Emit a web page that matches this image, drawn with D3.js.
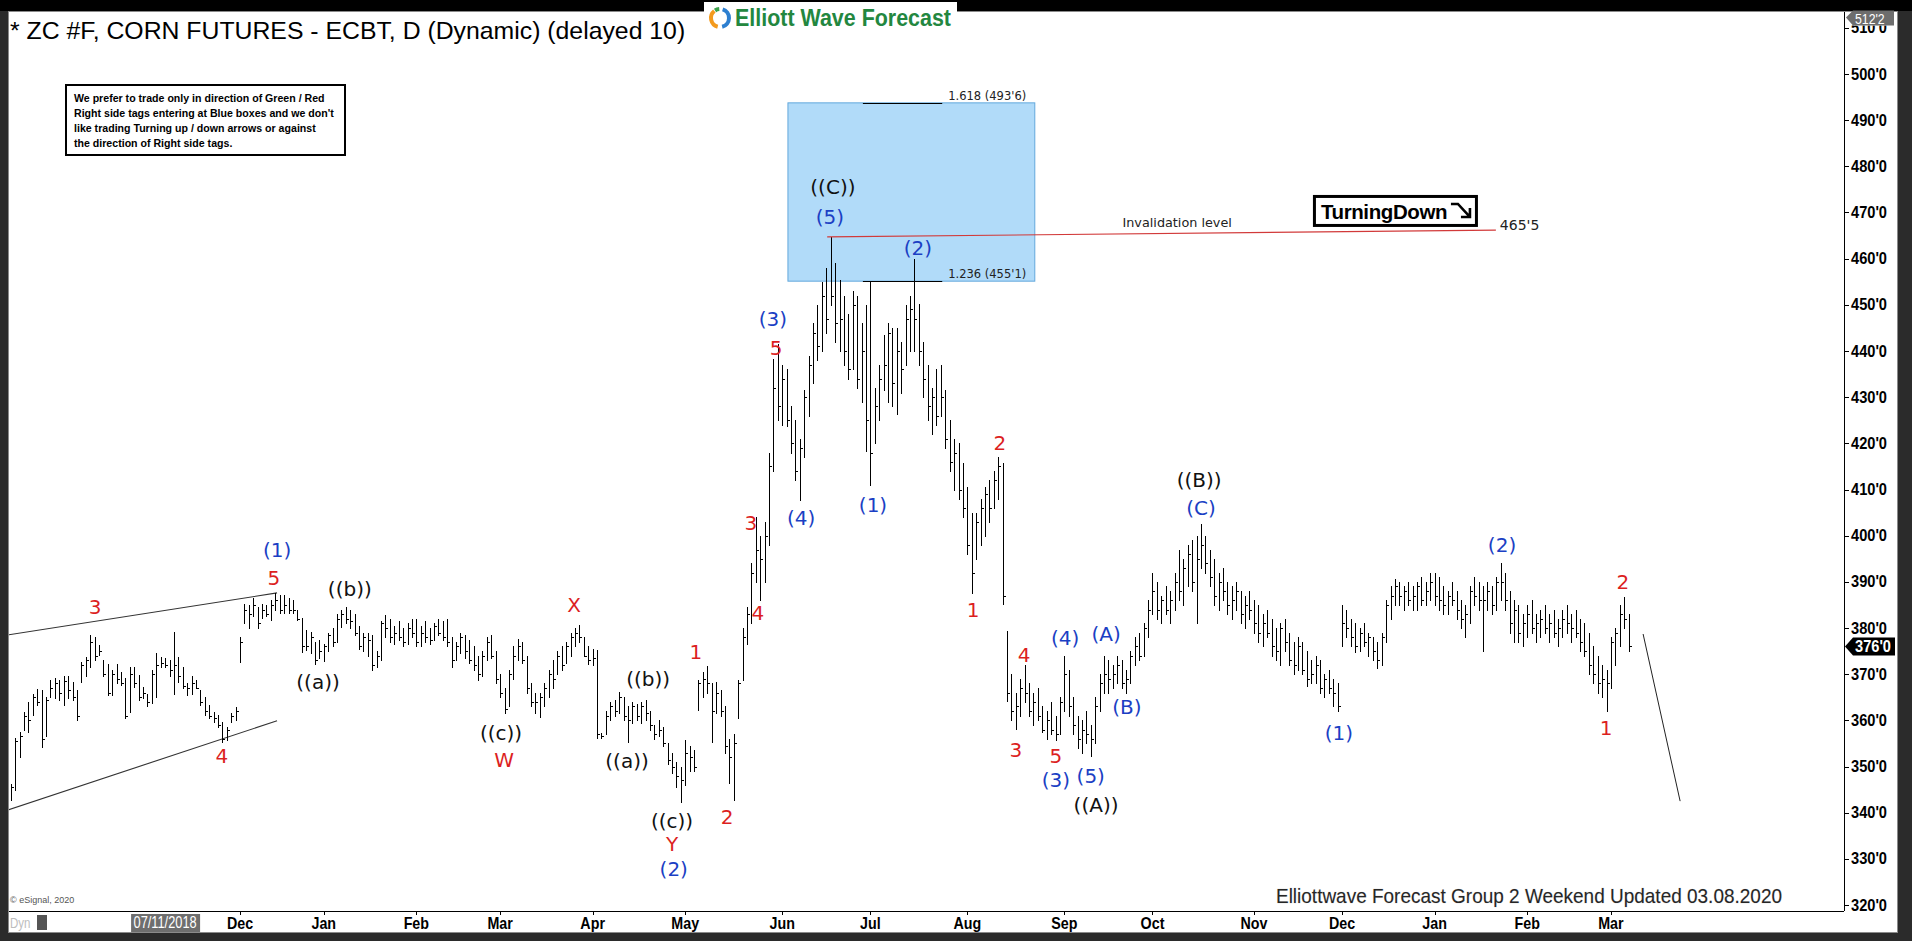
<!DOCTYPE html>
<html>
<head>
<meta charset="utf-8">
<title>ZC #F Corn Futures</title>
<script src="https://cdn.jsdelivr.net/npm/d3@7"></script>
<style>
  html, body { margin: 0; padding: 0; background: #2b2b2b; overflow: hidden; }
  svg { display: block; }
</style>
</head>
<body>
<div id="chart"></div>
<script>
// ---- data ----
const firstDay = '2018-09-17';
const lastDay = '2020-03-06';
const holidays = ['2018-11-22', '2018-12-05', '2018-12-25', '2019-01-01', '2019-01-21', '2019-02-18',
  '2019-04-19', '2019-05-27', '2019-07-04', '2019-09-02', '2019-11-28', '2019-12-25',
  '2020-01-01', '2020-01-20', '2020-02-17'];

// daily highs, one row per month
const highs = [
  349, 348.5, 346.3, 356.1, 357.5, 361.9, 364, 365.8, 366.7, 366.6,
  365.1, 368.7, 369.1, 368.7, 369.5, 369.5, 368.4, 366.6, 372.7, 373.8, 378.5, 378.1, 376.3, 373.1, 372.3, 370.9, 372.3, 370.5, 369.1, 371.6, 371.6, 369.8, 367.3,
  365.8, 371, 374.5, 373.8, 373.4, 373, 379.2, 373.8, 371.6, 368, 369.5, 368.7, 366.5, 365.1, 363.3, 361.9, 361.1, 359.7, 358.6, 361.5, 362.9,
  378.1, 385.3, 385, 386.4, 384.6, 385.3, 385, 386, 387.5, 387.1, 387.1, 386.4, 386, 383.9, 382.1, 379.6, 379.2, 377, 377.5,
  376.5, 379, 380, 383, 384, 384.6, 384, 383, 380.5, 379, 379, 378.5, 375, 381.5, 382.8, 382, 380.5, 381.5, 380, 381, 382,
  382, 380.5, 381.5, 380, 381, 382, 381.5, 382, 378, 377, 379, 378.5, 377.5, 376, 374, 375, 378, 378.5, 375,
  370, 367, 371, 376, 377.7, 377, 374, 368, 366, 366, 368, 371, 373, 375, 376, 377, 379, 380, 380.6, 378, 376,
  375.5, 375.2, 357.2, 362, 364, 364.5, 366.2, 365, 363, 364, 363.5, 364, 364.5, 362, 359, 360, 358.5, 355, 353, 351, 350,
  355.7, 354.5, 353.5, 368.7, 370.5, 371.8, 368, 368.3, 366.5, 363, 356, 357, 368.7, 380, 384.6, 394, 404, 400, 403, 418, 438.3, 441.5,
  437, 436, 428, 425, 421, 431.6, 439, 446, 450, 455, 458, 464.7, 459, 455.4, 452, 448, 453, 452, 446, 450,
  455, 432, 437, 443.5, 446, 445, 444.9, 442, 450, 452, 460, 450.2, 442, 437, 432, 436, 437, 431.6, 425, 421, 420, 415.8,
  410.5, 405, 405, 408, 410.5, 412, 414, 417, 415.8, 379.3, 370, 366, 369, 372, 368, 366, 367, 363, 362, 364, 361, 365,
  374, 371, 365, 361, 360, 362, 359, 365, 370, 374, 373, 372, 374, 373, 371, 375, 378, 379, 381, 386,
  391.9, 390, 387, 389, 388, 392, 397, 395, 398, 399, 400, 402.5, 400, 397, 395, 392, 393, 390, 389, 390, 388, 387, 388,
  386, 385, 383, 384, 382, 380, 381, 382, 379, 377, 378, 377, 375, 373, 374, 373, 370, 371, 369, 368,
  385, 384, 382, 381, 380, 381, 379, 378, 377, 379, 386, 389, 390.6, 390, 389, 390, 389, 390, 391, 390, 392,
  392, 391, 389, 388, 390, 388, 386, 385, 389, 391, 390, 389, 390, 389, 391, 394, 392, 388, 386, 385, 383,
  385, 386, 383, 384, 385, 383, 384, 382, 384, 385, 383, 384, 382, 381, 379, 376, 374, 372, 371,
  378, 380, 385, 386.7, 383
];

const lows = [
  343, 343.1, 342.7, 344.9, 352.1, 357.9, 357.5, 361.1, 363.3, 354.3,
  356.5, 365.1, 364.8, 364.4, 363.3, 364.8, 364.4, 360.1, 368.4, 369.5, 371.6, 373.1, 374.1, 369.5, 365.5, 365.5, 368, 367.6, 360.4, 361.9, 367.3, 364.4, 364.8,
  363, 363.7, 365.1, 371.6, 371.6, 369.5, 365.8, 368.4, 366.9, 365.5, 365.8, 366.9, 363.3, 361.1, 360.4, 359.7, 358.6, 355.4, 355.7, 359.7, 360.1,
  372.7, 381, 379.9, 382.5, 379.9, 382.1, 382.5, 381.7, 383.9, 383.2, 383.2, 383.2, 383.2, 381.7, 374.9, 375.2, 374.5, 372.3, 373.5,
  372.8, 375, 376, 377, 380.3, 381, 380, 378.5, 375.5, 375, 374, 370.9, 371.5, 373, 378, 377, 376.5, 377.5, 376, 376.5, 378,
  376, 376, 377, 376.5, 377.5, 378.5, 377.5, 376, 371.6, 373, 374.5, 373.5, 372.5, 371, 368.7, 369.5, 373, 373.5, 368,
  365, 361.5, 363, 369, 373, 372.5, 366, 363, 361.5, 360.8, 363, 365, 367, 370, 371, 372.5, 374, 376, 377, 374, 372.3,
  372, 356.1, 356.1, 357, 360, 361, 361.5, 360, 355.4, 359.5, 360, 359.5, 360, 358, 356, 356.5, 354.5, 350.5, 348.5, 345.5, 342.4,
  346, 349, 349, 362.2, 365, 366, 355.4, 361.5, 361, 353, 346.5, 342.7, 360.4, 368.7, 376.5, 381, 390, 386, 390, 398, 414, 425,
  424, 423.7, 418, 412, 407.8, 417, 426, 433, 438, 440, 444, 450, 442, 440, 437, 434, 436, 432, 429, 418.4,
  411, 420, 425, 431.6, 429, 428, 426.3, 431, 437, 440, 440, 437, 430, 425, 422, 424, 426, 419, 414, 410, 408, 404,
  396, 387.5, 395, 398, 400, 403, 406, 408, 385.3, 364.2, 360, 358.1, 361, 364, 361, 359, 360, 357.5, 356, 357, 355.7, 357,
  362, 361, 357, 354, 353, 355, 352.3, 355, 362, 366, 366, 367, 368, 367, 366, 368, 372, 373, 374, 378,
  383, 382, 381, 383, 381, 384, 386, 385, 389, 388, 381, 393, 392, 389, 385, 384, 386, 383, 382, 384, 381, 380, 382,
  379, 377, 376, 378, 374, 373, 372, 375, 372, 370, 371, 370, 367.5, 368, 368, 366, 365, 366, 363, 362,
  376, 378, 376, 374.8, 375, 376, 374, 373, 371.3, 372, 377, 382, 385, 385, 384, 385, 384, 384, 385, 385, 386,
  385, 384, 383, 383, 385, 382, 380, 378, 381, 385, 384, 375, 384, 383, 384, 386, 384, 379, 377, 377, 376,
  378, 379, 377, 378, 379, 377, 378, 376, 378, 379, 377, 378, 375, 374, 370, 368, 366, 365, 362,
  367, 372, 376, 380, 375
];

const closes = [
  345, 344, 345.5, 355.5, 356.5, 361, 360, 365, 364, 356,
  364.5, 367, 368, 366, 368.5, 366.5, 365, 361, 372, 373, 377, 374, 375, 370, 366, 370, 369, 368, 361, 370, 368, 365, 366,
  364, 370, 372, 372.5, 372, 371, 372, 369.5, 367.5, 367, 368, 367, 364, 362, 361, 360.5, 359, 356, 358, 361, 362,
  377, 384, 383, 385, 381, 384, 383, 385, 386, 384, 385, 384, 384, 382, 376, 376, 378, 373, 375,
  376, 378.5, 377, 382, 383, 382, 381.5, 379, 376, 378, 377.5, 372, 374, 381, 380, 378, 379, 378, 377, 380, 379,
  377, 379, 378, 377.5, 380.5, 379, 378, 377, 373, 376, 378, 375, 373, 372, 370, 374, 377, 374, 369,
  366, 362.5, 370, 374, 376, 373, 367, 364, 364, 365, 367, 370, 369, 374, 372, 376, 378, 379, 378, 374, 373,
  373.5, 357, 356.5, 361, 363, 362, 365, 361, 360, 363, 361, 363, 361.5, 359, 357, 358, 355, 351.5, 350, 348, 347,
  353, 352, 350, 368, 369, 368, 362, 366, 362, 354.5, 352, 355, 368, 378, 383, 392, 397, 395, 400, 415, 432, 428,
  434, 425, 420, 414, 419, 430, 437, 444, 441, 452, 447, 452, 446, 447, 440, 436, 450, 434, 440, 425,
  418, 428, 434, 437, 444, 433, 440, 436, 447, 449, 447, 440, 434, 428, 430, 426, 430, 421, 416, 418, 410, 406,
  398, 392, 403, 406, 409, 406, 412, 415, 387, 366, 362, 363, 367, 366, 362, 364, 361, 358, 360, 358, 357, 364,
  370, 363, 359, 356, 358, 357, 356, 363, 368, 370, 369, 370, 372, 368, 369, 374, 376, 374, 380, 384,
  388, 384, 386, 384, 386, 390, 388, 393, 396, 390, 395, 398, 394, 391, 387, 390, 388, 385, 386, 388, 383, 385, 384,
  381, 379, 381, 379, 376, 375, 380, 377, 373, 372, 376, 371, 369, 370, 372, 367, 369, 367, 366, 363,
  381, 380, 378, 376, 379, 377, 378, 375, 373, 378, 385, 387, 389, 387, 388, 386, 387, 389, 386, 388, 390,
  387, 386, 385, 387, 386, 384, 382, 383, 388, 387, 386, 386, 388, 385, 390, 390, 386, 381, 384, 379, 381,
  383, 380, 381, 382, 380, 381, 379, 380, 382, 381, 380, 379, 377, 375, 372, 370, 368, 369, 368,
  377, 379, 383, 382, 376
];

const priceTicks = d3.range(320, 511, 10);
const firstLabelledMonth = '2018-12-01';
const cursorDate = '2018-11-07';
const lastPrice = "376'0";
const lastPriceValue = 376;
const topTag = "512'2";
const topTagValue = 512.25;

// fib box (bar index from/to, prices) and its level lines
const boxBars = [178.3, 234.3];
const boxPrices = [455.125, 493.75];
const fibBars = [195.3, 213.3];
const fibLevels = [493.75, 455.125];
const fibTexts = ["1.618 (493'6)", "1.236 (455'1)"];

// invalidation line
const invalidBars = [187.2, 338.9];
const invalidPrices = [464.7, 466.2];
const invalidText = "465'5";

// wedge channel lines, projection line
const wedgeBars = [1.36, 62.4];
const wedgeUpper = [378.5, 387.6];
const wedgeLower = [340.6, 359.9];
const projBars = [372.3, 380.7];
const projPrices = [378.7, 342.5];

// wave labels: [text, bar index, price]
const redLabels = [
  ['3', 21.1, 384.5], ['4', 49.9, 352.3], ['5', 61.7, 390.8], ['X', 129.8, 385], ['W', 113.9, 351.4],
  ['Y', 152, 333.2], ['1', 157.4, 374.8], ['2', 164.5, 339.1], ['3', 169.9, 402.7], ['4', 171.5, 383.2],
  ['5', 175.6, 440.6], ['1', 220.3, 383.9], ['2', 226.4, 420.1], ['4', 231.9, 374.1], ['3', 230, 353.6],
  ['5', 239.1, 352.3], ['1', 363.9, 358.3], ['2', 367.7, 390]
];
const blueLabels = [
  ['(1)', 62.4, 396.9], ['(3)', 174.9, 446.9], ['(5)', 187.8, 469], ['(4)', 181.3, 403.8], ['(1)', 197.6, 406.6],
  ['(2)', 207.8, 462.3], ['(4)', 241.2, 377.8], ['(3)', 239.1, 347.1], ['(5)', 247, 347.9], ['(A)', 250.5, 378.7],
  ['(B)', 255.2, 362.9], ['(C)', 272, 406], ['(2)', 152.4, 327.8], ['(1)', 303.3, 357.3], ['(2)', 340.3, 398]
];
const blackLabels = [
  ['((b))', 78.9, 388.4], ['((a))', 71.7, 368.3], ['((c))', 113.2, 357.3], ['((a))', 141.8, 351.2],
  ['((b))', 146.6, 368.9], ['((c))', 152, 338.2], ['((C))', 188.5, 475.5], ['((B))', 271.6, 412], ['((A))', 248.2, 341.7]
];

const noteLines = [
  'We prefer to trade only in direction of Green / Red',
  "Right side tags entering at Blue boxes and we don't",
  'like trading Turning up / down arrows or against',
  'the direction of Right side tags.'
];

// ---- layout ----
const W = 1912;
const H = 941;
const plot = { left: 9, right: 1844, top: 12, bottom: 911 };
const barStep = 4.408;
const arial = '"Liberation Sans", Arial, sans-serif';
const verdana = '"DejaVu Sans", Verdana, sans-serif';

// squeeze a text horizontally, the chart uses a narrow face
function squeeze(sel, k) {
  sel.each(function () {
    const w = this.getComputedTextLength();
    d3.select(this).attr('textLength', w * k).attr('lengthAdjust', 'spacingAndGlyphs');
  });
}

const fmtDay = d3.timeFormat('%Y-%m-%d');
const parseDay = d3.timeParse('%Y-%m-%d');
const days = d3.timeDay.range(parseDay(firstDay), d3.timeDay.offset(parseDay(lastDay), 1))
  .filter((d) => d.getDay() !== 0 && d.getDay() !== 6 && !holidays.includes(fmtDay(d)));

const x = d3.scaleLinear()
  .domain([0, highs.length - 1])
  .range([2, 2 + barStep * (highs.length - 1)]);
const y = d3.scaleLinear().domain([320, 500]).range([905, 74]);
const px = (i) => Math.round(x(i)) + 0.5;

const svg = d3.select('#chart').append('svg')
  .attr('width', W)
  .attr('height', H);

// window frame
svg.append('rect').attr('width', W).attr('height', H).attr('fill', '#2b2b2b');
svg.append('rect').attr('width', W).attr('height', 11).attr('fill', '#000');
svg.append('rect')
  .attr('x', 8.5).attr('y', 11.5)
  .attr('width', 1889).attr('height', 921)
  .attr('fill', '#fff')
  .attr('stroke', '#8a8a8a');

const defs = svg.append('defs');
defs.append('clipPath').attr('id', 'plotClip')
  .append('rect')
  .attr('x', plot.left).attr('y', plot.top)
  .attr('width', plot.right - plot.left).attr('height', plot.bottom - plot.top);

const plotG = svg.append('g').attr('clip-path', 'url(#plotClip)');

// blue target box
plotG.append('rect')
  .attr('x', x(boxBars[0]))
  .attr('y', y(boxPrices[1]))
  .attr('width', x(boxBars[1]) - x(boxBars[0]))
  .attr('height', y(boxPrices[0]) - y(boxPrices[1]))
  .attr('fill', '#b1dbf9')
  .attr('stroke', '#62a8dc');

// fib levels
fibLevels.forEach((lvl, k) => {
  plotG.append('line')
    .attr('x1', x(fibBars[0])).attr('x2', x(fibBars[1]))
    .attr('y1', Math.round(y(lvl)) + 0.5).attr('y2', Math.round(y(lvl)) + 0.5)
    .attr('stroke', '#000');
  plotG.append('text')
    .attr('x', x(fibBars[1]) + 6)
    .attr('y', y(lvl) - 3)
    .attr('font-family', verdana)
    .attr('font-size', 11.5)
    .attr('fill', '#222')
    .text(fibTexts[k]);
});

// wedge channel
[wedgeUpper, wedgeLower].forEach((p) => {
  plotG.append('line')
    .attr('x1', x(wedgeBars[0])).attr('y1', y(p[0]))
    .attr('x2', x(wedgeBars[1])).attr('y2', y(p[1]))
    .attr('stroke', '#333')
    .attr('stroke-width', 1.1);
});

// OHLC bars
const bars = plotG.append('g').attr('shape-rendering', 'crispEdges');
bars.selectAll('line.hl')
  .data(highs)
  .join('line')
  .attr('class', 'hl')
  .attr('x1', (d, i) => px(i)).attr('x2', (d, i) => px(i))
  .attr('y1', (d) => Math.round(y(d)))
  .attr('y2', (d, i) => Math.round(y(lows[i])) + 1)
  .attr('stroke', '#000');
bars.selectAll('line.cl')
  .data(closes)
  .join('line')
  .attr('class', 'cl')
  .attr('x1', (d, i) => px(i)).attr('x2', (d, i) => px(i) + 2.5)
  .attr('y1', (d) => Math.round(y(d)) + 0.5)
  .attr('y2', (d) => Math.round(y(d)) + 0.5)
  .attr('stroke', '#000');

// invalidation line
plotG.append('line')
  .attr('x1', x(invalidBars[0])).attr('y1', y(invalidPrices[0]))
  .attr('x2', x(invalidBars[1])).attr('y2', y(invalidPrices[1]))
  .attr('stroke', '#d23a3a')
  .attr('stroke-width', 1.2);
plotG.append('text')
  .attr('x', x(266.6)).attr('y', y(467.8))
  .attr('text-anchor', 'middle').attr('dominant-baseline', 'central')
  .attr('font-family', verdana).attr('font-size', 12.8).attr('fill', '#222')
  .text('Invalidation level');
plotG.append('text')
  .attr('x', x(invalidBars[1]) + 4).attr('y', y(467.2))
  .attr('dominant-baseline', 'central')
  .attr('font-family', verdana).attr('font-size', 14).attr('fill', '#222')
  .text(invalidText);

// TurningDown tag
const tag = plotG.append('g').attr('transform', `translate(${x(297.4)},${y(473.8)})`);
tag.append('rect')
  .attr('x', 1.5).attr('y', 1.5).attr('width', 162).attr('height', 29)
  .attr('fill', '#fff').attr('stroke', '#000').attr('stroke-width', 3);
tag.append('text')
  .attr('x', 8).attr('y', 16.5)
  .attr('dominant-baseline', 'central')
  .attr('font-family', arial).attr('font-weight', 'bold').attr('font-size', 20.5)
  .attr('letter-spacing', -0.4)
  .attr('fill', '#000')
  .text('TurningDown');
tag.append('path')
  .attr('d', 'M138,9 L145,9 L156,21 M148,22 L157,22 L157,13')
  .attr('fill', 'none').attr('stroke', '#000').attr('stroke-width', 2.6);

// projection line
plotG.append('line')
  .attr('x1', x(projBars[0])).attr('y1', y(projPrices[0]))
  .attr('x2', x(projBars[1])).attr('y2', y(projPrices[1]))
  .attr('stroke', '#222');

// wave labels
const waveGroups = [[redLabels, '#dc1f1f'], [blueLabels, '#1b3fc4'], [blackLabels, '#111']];
waveGroups.forEach(([labels, colour]) => {
  plotG.append('g').selectAll('text')
    .data(labels)
    .join('text')
    .attr('x', (d) => x(d[1]))
    .attr('y', (d) => y(d[2]))
    .attr('text-anchor', 'middle')
    .attr('dominant-baseline', 'central')
    .attr('font-family', verdana)
    .attr('font-size', 20)
    .attr('fill', colour)
    .text((d) => d[0]);
});

// right price axis
svg.append('line')
  .attr('x1', plot.right + 0.5).attr('x2', plot.right + 0.5)
  .attr('y1', plot.top).attr('y2', plot.bottom)
  .attr('stroke', '#000');
const ty = y(topTagValue);
defs.append('clipPath').attr('id', 'underTag')
  .append('rect')
  .attr('x', plot.right).attr('y', ty + 8)
  .attr('width', 60).attr('height', plot.bottom);
const yAx = svg.append('g').attr('clip-path', 'url(#underTag)');
yAx.selectAll('line')
  .data(priceTicks)
  .join('line')
  .attr('x1', plot.right).attr('x2', plot.right + 5)
  .attr('y1', (d) => Math.round(y(d)) + 0.5).attr('y2', (d) => Math.round(y(d)) + 0.5)
  .attr('stroke', '#000');
yAx.selectAll('text')
  .data(priceTicks)
  .join('text')
  .attr('x', plot.right + 7)
  .attr('y', (d) => y(d))
  .attr('dominant-baseline', 'central')
  .attr('font-family', arial).attr('font-weight', 'bold').attr('font-size', 17)
  .attr('fill', '#000')
  .text((d) => `${d}'0`)
  .call(squeeze, 0.86);

// top tag (covers most of the 510'0 label)
svg.append('path')
  .attr('d', `M${plot.right + 2},${ty} L${plot.right + 9},${ty - 7} L1894,${ty - 7} L1894,${ty + 8} L${plot.right + 9},${ty + 8} Z`)
  .attr('fill', '#6d6d6d');
svg.append('text')
  .attr('x', plot.right + 11).attr('y', ty + 1)
  .attr('dominant-baseline', 'central')
  .attr('font-family', arial).attr('font-size', 15).attr('fill', '#fff')
  .text(topTag)
  .call(squeeze, 0.82);

// last price tag
const ly = y(lastPriceValue);
svg.append('path')
  .attr('d', `M${plot.right + 1},${ly} L${plot.right + 9},${ly - 9} L1895,${ly - 9} L1895,${ly + 9} L${plot.right + 9},${ly + 9} Z`)
  .attr('fill', '#000');
svg.append('text')
  .attr('x', plot.right + 11).attr('y', ly + 0.5)
  .attr('dominant-baseline', 'central')
  .attr('font-family', arial).attr('font-weight', 'bold').attr('font-size', 17).attr('fill', '#fff')
  .text(lastPrice)
  .call(squeeze, 0.86);

// bottom time axis
svg.append('line')
  .attr('x1', plot.left).attr('x2', plot.right)
  .attr('y1', plot.bottom + 0.5).attr('y2', plot.bottom + 0.5)
  .attr('stroke', '#000');
const monthStarts = days
  .map((d, i) => ({ d, i }))
  .filter((o, k, arr) => k > 0 && o.d.getMonth() !== arr[k - 1].d.getMonth() && o.d >= parseDay(firstLabelledMonth));
const xAx = svg.append('g');
xAx.selectAll('line')
  .data(monthStarts)
  .join('line')
  .attr('x1', (o) => px(o.i)).attr('x2', (o) => px(o.i))
  .attr('y1', plot.bottom).attr('y2', plot.bottom + 4)
  .attr('stroke', '#000');
xAx.selectAll('text')
  .data(monthStarts)
  .join('text')
  .attr('x', (o) => x(o.i))
  .attr('y', 929)
  .attr('text-anchor', 'middle')
  .attr('font-family', arial).attr('font-weight', 'bold').attr('font-size', 17)
  .attr('fill', '#000')
  .text((o) => d3.timeFormat('%b')(o.d))
  .call(squeeze, 0.84);

// cursor date box
const ci = days.findIndex((d) => fmtDay(d) === cursorDate);
svg.append('rect')
  .attr('x', x(ci) - 34).attr('y', 914)
  .attr('width', 69).attr('height', 18)
  .attr('fill', '#6e6e6e');
svg.append('text')
  .attr('x', x(ci)).attr('y', 928)
  .attr('text-anchor', 'middle')
  .attr('font-family', arial).attr('font-size', 16).attr('fill', '#fff')
  .text(d3.timeFormat('%d/%m/%Y')(days[ci]))
  .call(squeeze, 0.8);

// Dyn icon + copyright
svg.append('text')
  .attr('x', 10).attr('y', 928)
  .attr('font-family', arial).attr('font-size', 14).attr('fill', '#bdbdbd')
  .text('Dyn')
  .call(squeeze, 0.82);
svg.append('rect')
  .attr('x', 37).attr('y', 915).attr('width', 10).attr('height', 15)
  .attr('fill', '#555');
svg.append('text')
  .attr('x', 10).attr('y', 903)
  .attr('font-family', arial).attr('font-size', 9).attr('fill', '#555')
  .text('\u00a9 eSignal, 2020');

// update footer
svg.append('text')
  .attr('x', 1276).attr('y', 903)
  .attr('font-family', arial).attr('font-size', 21)
  .attr('fill', '#262626')
  .attr('stroke', '#d8d8d8').attr('stroke-width', 0.6)
  .attr('paint-order', 'stroke')
  .attr('textLength', 506).attr('lengthAdjust', 'spacingAndGlyphs')
  .text('Elliottwave Forecast Group 2 Weekend Updated 03.08.2020');

// title
svg.append('text')
  .attr('x', 10).attr('y', 39)
  .attr('font-family', arial).attr('font-size', 24.8)
  .attr('fill', '#000')
  .text('* ZC #F, CORN FUTURES - ECBT, D (Dynamic) (delayed 10)');

// logo
const logo = svg.append('g');
logo.append('rect').attr('x', 704).attr('y', 2).attr('width', 253).attr('height', 32).attr('fill', '#fff');
const arc = d3.arc().innerRadius(7).outerRadius(11);
logo.append('path').attr('transform', 'translate(720,18)')
  .attr('d', arc({ startAngle: 0.3, endAngle: 2.9 })).attr('fill', '#2d7fd0');
logo.append('path').attr('transform', 'translate(720,18)')
  .attr('d', arc({ startAngle: 3.4, endAngle: 5.6 })).attr('fill', '#f39a1d');
logo.append('path').attr('transform', 'translate(720,18)')
  .attr('d', arc({ startAngle: 5.7, endAngle: 6.2 })).attr('fill', '#3aa14a');
logo.append('text')
  .attr('x', 735).attr('y', 26)
  .attr('font-family', arial).attr('font-weight', 'bold').attr('font-size', 23)
  .attr('fill', '#23873f')
  .attr('textLength', 216).attr('lengthAdjust', 'spacingAndGlyphs')
  .text('Elliott Wave Forecast');

// note box
svg.append('rect')
  .attr('x', 66).attr('y', 85)
  .attr('width', 279).attr('height', 70)
  .attr('fill', '#fff').attr('stroke', '#000').attr('stroke-width', 2);
svg.append('g').selectAll('text')
  .data(noteLines)
  .join('text')
  .attr('x', 74)
  .attr('y', (d, k) => 102 + k * 15)
  .attr('font-family', arial).attr('font-weight', 'bold').attr('font-size', 10.6)
  .attr('fill', '#000')
  .text((d) => d);

if (days.length !== highs.length) console.warn('bar count', days.length, highs.length);
</script>
</body>
</html>
